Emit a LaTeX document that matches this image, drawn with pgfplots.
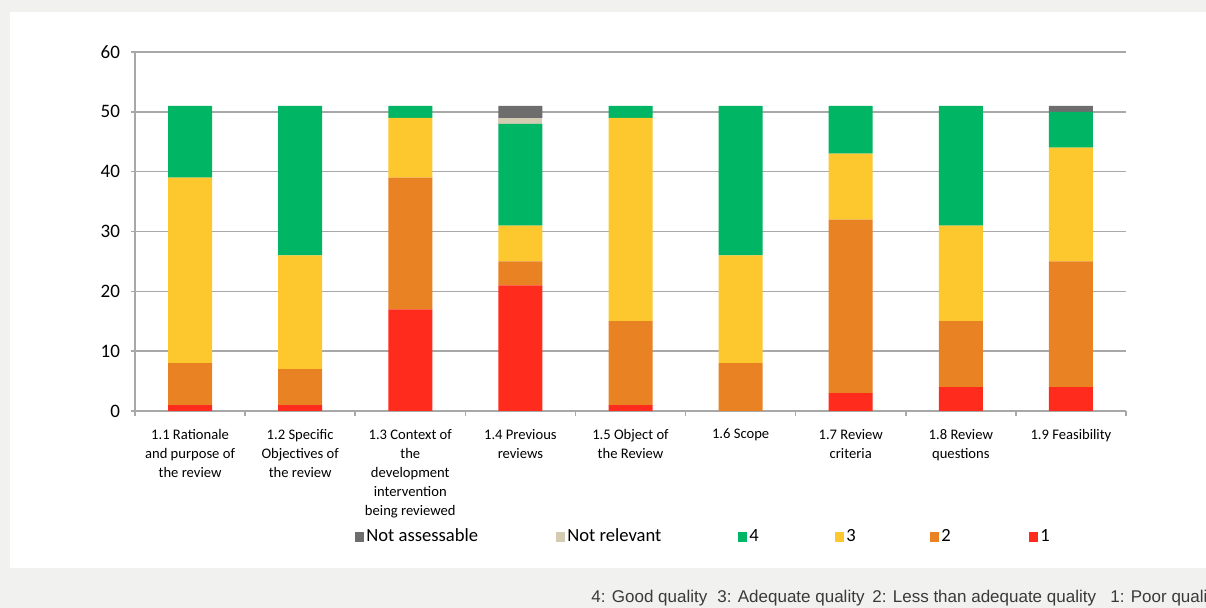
\documentclass[border=0pt]{standalone}
\usepackage{pgfplots}
\pgfplotsset{compat=1.18}
\usepackage{fontspec}
\setmainfont{Carlito}
\newfontfamily\capfont{Liberation Sans}
\definecolor{cOne}{HTML}{FF2B1C}
\definecolor{cTwo}{HTML}{E88222}
\definecolor{cThree}{HTML}{FDC72E}
\definecolor{cFour}{HTML}{00B563}
\definecolor{cNR}{HTML}{D3CCB2}
\definecolor{cNA}{HTML}{6D6D6D}
\definecolor{gridc}{HTML}{A8A8A8}
\definecolor{bgc}{HTML}{F1F1F0}
\definecolor{capc}{HTML}{3A3A3A}
\begin{document}
\begin{tikzpicture}
\begin{scope}[x=0.5pt,y=-0.5pt]
\useasboundingbox (0,0) rectangle (1206,608);
\clip (0,0) rectangle (1206,608);
\fill[bgc] (0,0) rectangle (1206,608);
\fill[white] (10,12) rectangle (1206,568);
\end{scope}
\begin{axis}[
  at={(67.5pt,-205.5pt)}, anchor=south west,
  scale only axis, width=495.5pt, height=179.5pt,
  ybar stacked, bar width=22pt,
  xmin=-0.5, xmax=8.5, ymin=0, ymax=60,
  ytick={0,10,...,60},
  xtick={0,...,8},
  xticklabels={{1.1 Rationale\\and purpose of\\the review},{1.2 Specific\\Objectives of\\the review},{1.3 Context of\\the\\development\\intervention\\being reviewed},{1.4 Previous\\reviews},{1.5 Object of\\the Review},{1.6 Scope},{1.7 Review\\criteria},{1.8 Review\\questions},{1.9 Feasibility}},
  xticklabel style={align=center, font=\fontsize{7.3}{9.5}\selectfont, yshift=-3.5pt},
  yticklabel style={font=\fontsize{9.5}{11}\selectfont, xshift=-2pt},
  /pgf/number format/assume math mode=true,
  axis x line*=bottom, axis y line*=left,
  axis line style={gridc, line width=0.8pt, -},
  ymajorgrids, grid style={gridc, line width=0.75pt},
  tick align=outside, major tick length=2pt,
  tick style={gridc, line width=0.75pt},
  xtick style={draw=none},
  extra x ticks={-0.5,0.5,...,8.5}, extra x tick labels={},
  extra x tick style={grid=none, xtick style={draw=gridc}, major tick length=2.5pt},
  every axis plot/.append style={draw=none},
  reverse legend,
  legend columns=6,
  legend style={at={(0.222,-0.351)}, anchor=west, draw=none, fill=none, inner sep=0pt,
    font=\fontsize{9.3}{11}\selectfont, nodes={inner xsep=1pt},
    /tikz/every even column/.append style={column sep=0pt}},
  legend image code/.code={\fill[#1] (0pt,-2.3pt) rectangle (4.5pt,2.3pt);},
]
\addplot[fill=cOne] coordinates {(0,1) (1,1) (2,17) (3,21) (4,1) (5,0) (6,3) (7,4) (8,4)};
\addplot[fill=cTwo] coordinates {(0,7) (1,6) (2,22) (3,4) (4,14) (5,8) (6,29) (7,11) (8,21)};
\addplot[fill=cThree] coordinates {(0,31) (1,19) (2,10) (3,6) (4,34) (5,18) (6,11) (7,16) (8,19)};
\addplot[fill=cFour] coordinates {(0,12) (1,25) (2,2) (3,17) (4,2) (5,25) (6,8) (7,20) (8,6)};
\addplot[fill=cNR] coordinates {(0,0) (1,0) (2,0) (3,1) (4,0) (5,0) (6,0) (7,0) (8,0)};
\addplot[fill=cNA] coordinates {(0,0) (1,0) (2,0) (3,2) (4,0) (5,0) (6,0) (7,0) (8,1)};
\addlegendentry{1}
\addlegendentry{\makebox[43pt][l]{2}}
\addlegendentry{\makebox[41pt][l]{3}}
\addlegendentry{\makebox[42pt][l]{4}}
\addlegendentry{\makebox[84.5pt][l]{Not relevant}}
\addlegendentry{\makebox[94pt][l]{Not assessable}}
\end{axis}
\begin{scope}[x=0.5pt,y=-0.5pt]
\clip (0,0) rectangle (1206,608);
\begin{scope}[every node/.style={anchor=base west, inner sep=0pt, text=capc, font=\capfont\fontsize{8.5}{10}\selectfont}]
\node at (591,603) {4: Good quality};
\node at (717,603) {3: Adequate quality};
\node at (872,603) {2: Less than adequate quality};
\node at (1110,603) {1: Poor quality};
\end{scope}
\end{scope}
\end{tikzpicture}
\end{document}
